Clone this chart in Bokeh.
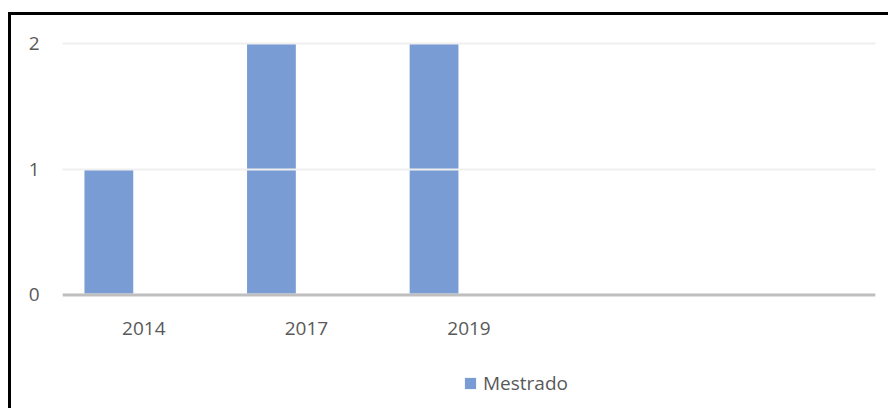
from bokeh.plotting import figure
from bokeh.layouts import column
from bokeh.models import ColumnDataSource, Range1d, FactorRange, Span, Legend, LegendItem, InlineStyleSheet
from bokeh.transform import dodge
from bokeh.embed import file_html
from bokeh.resources import INLINE

categories = ["2014", "2017", "2019", " ", "  "]
mestrado = [1, 2, 2, 0, 0]
y_ticks = [0, 1, 2]

FONT = "Open Sans"
TXT = "#595959"
BAR = "#7a9cd4"

src = ColumnDataSource(dict(cat=categories, val=mestrado))

css = InlineStyleSheet(css="""
:host { position: relative; }
:host::after { content: ''; position: absolute; left: 8px; top: 12px; width: calc(100% - 8px); height: calc(100% - 12px);
  border-left: 3px solid #000; border-top: 3px solid #000; pointer-events: none; box-sizing: border-box; }
""")

p = figure(frame_width=813, frame_height=257,
           x_range=FactorRange(*categories), y_range=Range1d(-0.02, 2.02),
           output_backend="svg", toolbar_location=None,
           min_border_left=62, min_border_right=13, min_border_top=40, min_border_bottom=55)
p.outline_line_color = None

r = p.vbar(x=dodge("cat", -0.215, range=p.x_range), top="val", width=0.30, source=src,
           fill_color=BAR, line_color=None)

p.ygrid.ticker = y_ticks
p.ygrid.grid_line_color = "#efefef"
p.ygrid.grid_line_width = 2
p.ygrid.level = "overlay"
p.xgrid.grid_line_color = None

base = Span(location=0, dimension="width", line_color="#bfbfbf", line_width=3, level="overlay")
p.add_layout(base)

p.yaxis.ticker = y_ticks
p.yaxis.axis_line_color = None
p.yaxis.major_tick_line_color = None
p.yaxis.minor_tick_line_color = None
p.yaxis.major_label_standoff = 17
p.yaxis.major_label_text_font = FONT
p.yaxis.major_label_text_font_size = "19px"
p.yaxis.major_label_text_color = TXT

p.xaxis.axis_line_color = None
p.xaxis.major_tick_line_color = None
p.xaxis.major_label_standoff = 11
p.xaxis.major_label_text_font = FONT
p.xaxis.major_label_text_font_size = "19px"
p.xaxis.major_label_text_color = TXT

# legend strip: a second figure whose frame covers it entirely
p2 = figure(width=888, height=56, x_range=FactorRange(*categories), y_range=Range1d(10, 11),
            output_backend="svg", toolbar_location=None, x_axis_location=None, y_axis_location=None,
            min_border=0)
p2.outline_line_color = None
p2.grid.visible = False
r2 = p2.vbar(x=dodge("cat", -0.215, range=p2.x_range), top="val", width=0.30, source=src,
             fill_color=BAR, line_color=None)

legend = Legend(items=[LegendItem(label="Mestrado", renderers=[r2])], location=(401, 12),
                orientation="horizontal", border_line_color=None, background_fill_alpha=0,
                label_text_font=FONT, label_text_font_size="19px", label_text_color=TXT,
                glyph_width=14, glyph_height=14, label_standoff=6, margin=0, padding=2)
p2.add_layout(legend, "center")

layout = column(p, p2, spacing=0, stylesheets=[css])

open("out.html", "w").write(file_html(layout, INLINE))
